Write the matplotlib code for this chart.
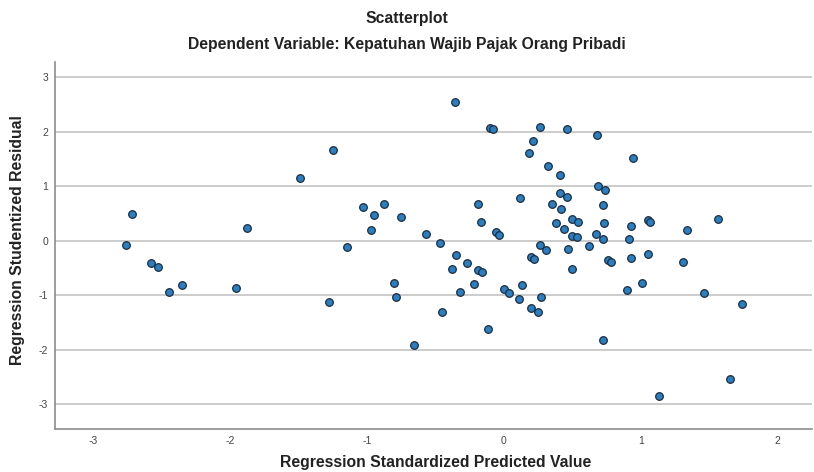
import matplotlib
matplotlib.use("Agg")
import matplotlib.pyplot as plt

# Regression standardized predicted value (x) vs studentized residual (y)
pred = [
    -2.72, -2.76, -2.58, -2.53, -2.45, -2.35, -1.96, -1.88, -1.49, -1.25, -1.28, -1.15,
    -0.36, -1.03, -0.88, -0.95, -0.75, -0.97, -0.57, -0.47, -0.35, -0.27, -0.38, -0.19,
    -0.16, -0.22, -0.80, -0.79, -0.32, -0.45, -0.12, -0.66, -0.19, -0.17,
    -0.10, -0.08, 0.26, 0.46, 0.68, 0.21, 0.18, 0.32, 0.41, 0.69, 0.74, 0.41, 0.46,
    0.12, 0.35, 0.72, 0.42, 0.50, 0.54, 0.38, 0.73, 0.44, -0.06, -0.04, 0.50, 0.53,
    0.67, 0.72, 0.26, 0.31, 0.47, 0.62, 0.76, 0.20, 0.22, 0.50, 0.13, 0.00, 0.04,
    0.11, 0.27, 0.20, 0.25, 0.72,
    0.94, 0.93, 1.05, 1.07, 1.34, 1.56, 0.91, 0.78, 0.93, 1.05, 1.31, 1.01, 0.90,
    1.46, 1.13, 1.74, 1.65,
]
resid = [
    0.50, -0.07, -0.40, -0.48, -0.94, -0.81, -0.86, 0.24, 1.16, 1.67, -1.12, -0.11,
    2.55, 0.62, 0.68, 0.48, 0.44, 0.20, 0.13, -0.04, -0.26, -0.40, -0.51, -0.53,
    -0.57, -0.79, -0.77, -1.03, -0.94, -1.30, -1.61, -1.91, 0.68, 0.35,
    2.07, 2.06, 2.09, 2.06, 1.95, 1.83, 1.61, 1.38, 1.21, 1.01, 0.93, 0.88, 0.81,
    0.79, 0.68, 0.66, 0.58, 0.40, 0.35, 0.33, 0.33, 0.22, 0.17, 0.11, 0.09, 0.07,
    0.13, 0.04, -0.07, -0.17, -0.15, -0.09, -0.35, -0.29, -0.33, -0.51, -0.81, -0.88, -0.95,
    -1.06, -1.03, -1.23, -1.30, -1.82,
    1.52, 0.27, 0.39, 0.35, 0.20, 0.41, 0.03, -0.38, -0.32, -0.24, -0.38, -0.77, -0.90,
    -0.95, -2.84, -1.16, -2.53,
]
x_ticks = [-3, -2, -1, 0, 1, 2]
y_ticks = [-3, -2, -1, 0, 1, 2, 3]

plt.rcParams["font.family"] = ["Liberation Sans", "DejaVu Sans"]

fig = plt.figure(figsize=(8.14, 4.72), dpi=100)
ax = fig.add_axes([55 / 814, 43 / 472, 757 / 814, 367 / 472])

ax.scatter(pred, resid, s=30, c="#2a7fc3", edgecolors="#1d2c3c",
           linewidths=0.9, zorder=3)

ax.set_xlim(-3.28, 2.25)
ax.set_ylim(-3.45, 3.28)
ax.set_xticks(x_ticks)
ax.set_yticks(y_ticks)
ax.set_xticklabels([str(v) for v in x_ticks])
ax.set_yticklabels([str(v) for v in y_ticks])
ax.tick_params(axis="both", length=0, labelsize=7.5, colors="#444444")
ax.tick_params(axis="x", pad=5)
ax.tick_params(axis="y", pad=5)

ax.grid(axis="y", color="#c4c4c4", linewidth=1.2, zorder=0)
ax.set_axisbelow(True)
for side in ["top", "right"]:
    ax.spines[side].set_visible(False)
for side in ["left", "bottom"]:
    ax.spines[side].set_color("#8c8c8c")
    ax.spines[side].set_linewidth(1.2)

fig.text(0.5, 1 - 18 / 472, "Scatterplot", ha="center", va="center",
         fontsize=11.3, fontweight="bold", color="#222222")
fig.text(0.5, 1 - 45 / 472, "Dependent Variable: Kepatuhan Wajib Pajak Orang Pribadi",
         ha="center", va="center", fontsize=11.3, fontweight="bold", color="#222222")
fig.text(436 / 814, 1 - 463 / 472, "Regression Standardized Predicted Value",
         ha="center", va="center", fontsize=11.3, fontweight="bold", color="#222222")
fig.text(18 / 814, 1 - 240 / 472, "Regression Studentized Residual", rotation=90,
         ha="center", va="center", fontsize=11.3, fontweight="bold", color="#222222")

fig.savefig("out.png", dpi=100, facecolor="white")
